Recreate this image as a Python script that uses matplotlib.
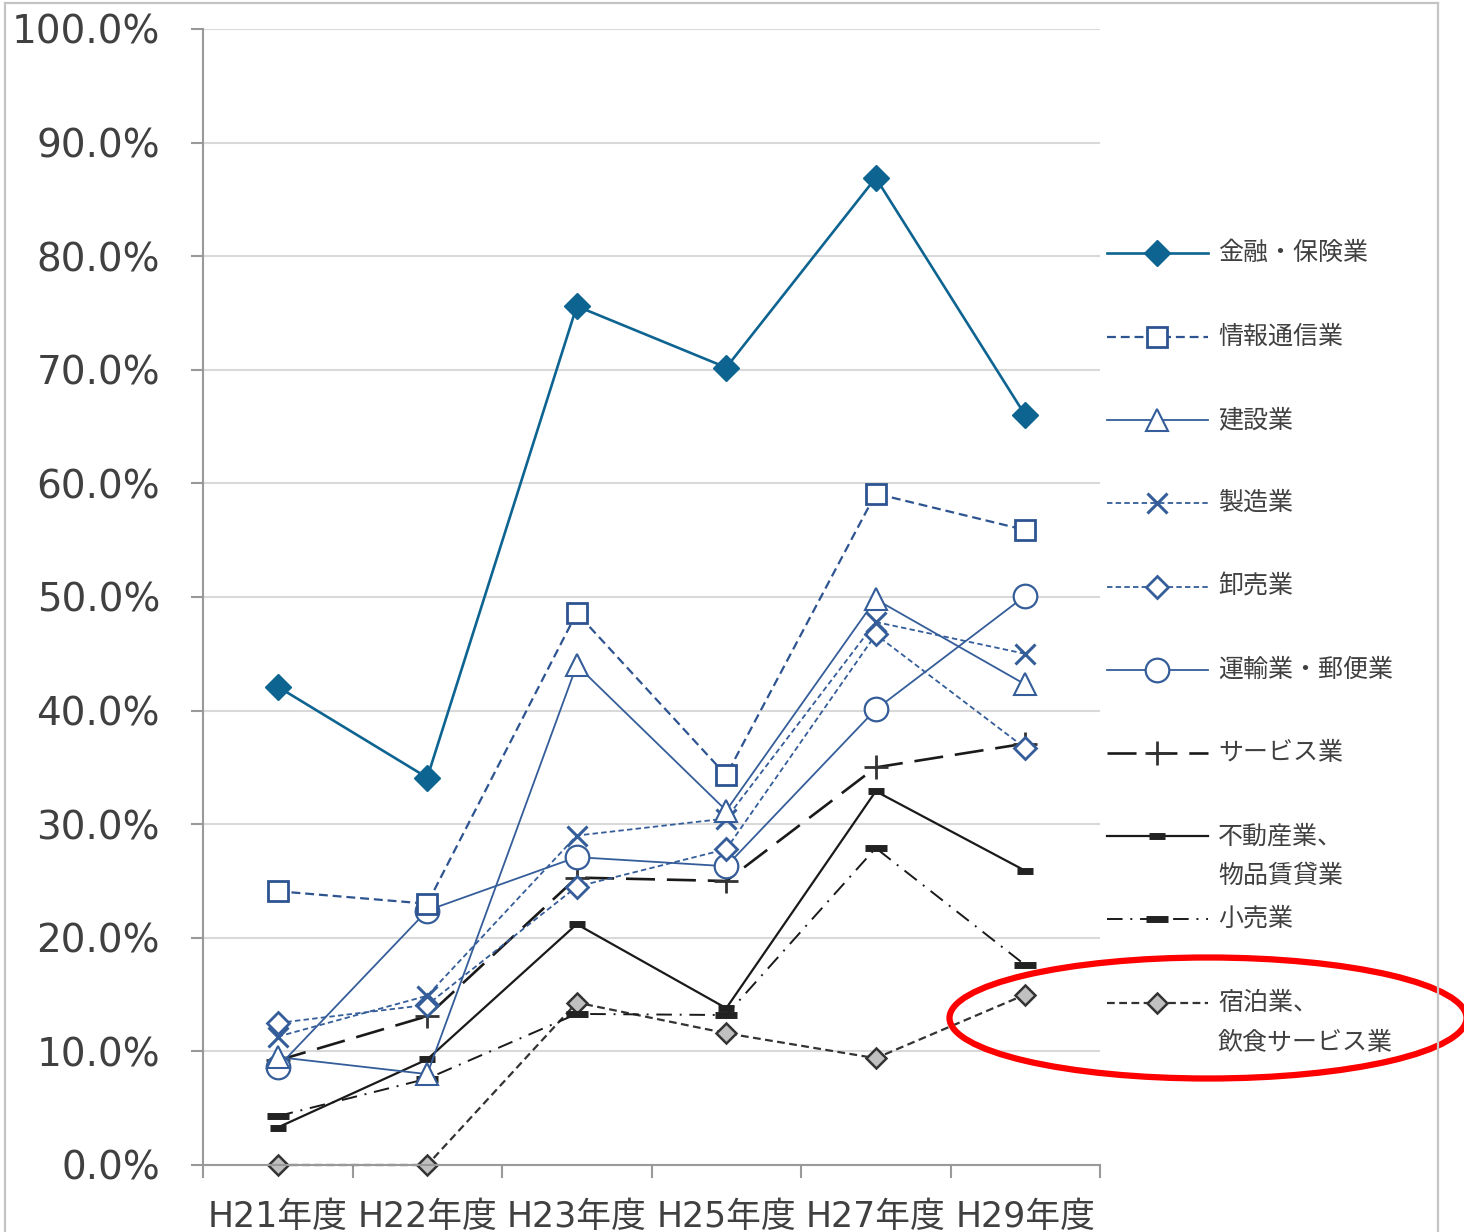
import matplotlib
matplotlib.use("Agg")
import matplotlib.pyplot as plt
from matplotlib.lines import Line2D
from matplotlib.patches import Ellipse

plt.rcParams['font.family'] = ['DejaVu Sans', 'Noto Sans CJK JP']

years = ["H21年度", "H22年度", "H23年度", "H25年度", "H27年度", "H29年度"]

finance = [42.1, 34.1, 75.6, 70.2, 86.9, 66.0]
info_comm = [24.1, 23.0, 48.6, 34.3, 59.1, 55.9]
construction = [9.5, 8.0, 44.0, 31.2, 49.8, 42.3]
manufacturing = [11.3, 14.9, 29.0, 30.5, 47.8, 45.0]
wholesale = [12.5, 14.1, 24.5, 27.8, 46.7, 36.7]
transport = [8.6, 22.4, 27.1, 26.3, 40.1, 50.1]
services = [9.2, 13.1, 25.3, 25.0, 35.0, 37.1]
real_estate = [3.3, 9.3, 21.2, 13.8, 32.9, 25.9]
retail = [4.3, 7.6, 13.3, 13.2, 27.9, 17.6]
lodging = [0.0, 0.0, 14.3, 11.6, 9.4, 15.0]

labels = ["金融・保険業", "情報通信業", "建設業", "製造業", "卸売業",
          "運輸業・郵便業", "サービス業", "不動産業、\n物品賃貸業", "小売業",
          "宿泊業、\n飲食サービス業"]

W, H = 1464, 1232
TXT = "#404040"
BLUE = "#345d99"


def fx(px):
    return px / W


def fy(py):
    return 1 - py / H


styles = [
    dict(color="#0e6491", ls="-", lw=1.9, marker="D", ms=13, mfc="#0e6491", mec="#0e6491"),
    dict(color="#2d5490", ls=(0, (4, 2.2)), lw=1.6, marker="s", ms=14, mfc="white", mec="#2d5490", mew=2),
    dict(color=BLUE, ls="-", lw=1.3, marker="^", ms=16, mfc="white", mec=BLUE, mew=1.5),
    dict(color=BLUE, ls=(0, (3, 1.8)), lw=1.3, marker="x", ms=15, mfc="none", mec=BLUE, mew=2.2),
    dict(color=BLUE, ls=(0, (3, 1.8)), lw=1.3, marker="D", ms=11.5, mfc="white", mec=BLUE, mew=2),
    dict(color=BLUE, ls="-", lw=1.3, marker="o", ms=17, mfc="white", mec=BLUE, mew=1.6),
    dict(color="#1a1a1a", ls=(0, (11, 4.5)), lw=1.9, marker="+", ms=17, mfc="none", mec="#333333", mew=2),
    dict(color="#1a1a1a", ls="-", lw=1.6, marker="_", ms=11, mfc="#222222", mec="#222222", mew=5),
    dict(color="#1a1a1a", ls=(0, (8, 4, 1, 4)), lw=1.4, marker="_", ms=16, mfc="#222222", mec="#222222", mew=5),
    dict(color="#333333", ls=(0, (3.5, 2)), lw=1.6, marker="D", ms=10.5, mfc="#c0c0c0", mec="#333333", mew=1.8),
]

series = [finance, info_comm, construction, manufacturing, wholesale,
          transport, services, real_estate, retail, lodging]

fig = plt.figure(figsize=(W / 100, H / 100), dpi=100)
ax = fig.add_axes([fx(203), fy(1165), fx(1100) - fx(203), fy(29) - fy(1165)])

x = list(range(len(years)))
# draw in reverse so finance sits on top
for vals, st in reversed(list(zip(series, styles))):
    ax.plot(x, vals, clip_on=False, **st)

ax.set_xlim(-0.5, len(years) - 0.5)
ax.set_ylim(0, 100)
ax.set_yticks(range(0, 101, 10))
ax.set_yticklabels([f"{v:.1f}%" for v in range(0, 101, 10)])
ax.set_xticks(x)
ax.set_xticklabels(years)
ax.set_xticks([i - 0.5 for i in range(len(years) + 1)], minor=True)
ax.tick_params(axis="x", which="major", length=0, pad=25, labelsize=25, labelcolor=TXT)
ax.tick_params(axis="x", which="minor", length=9, width=1.5, color="#999999", direction="out")
ax.tick_params(axis="y", length=9, width=1.5, color="#999999", pad=22, labelsize=28, labelcolor=TXT)

ax.grid(axis="y", color="#d9d9d9", lw=1.5)
ax.set_axisbelow(True)
for s in ["top", "right"]:
    ax.spines[s].set_visible(False)
for s in ["left", "bottom"]:
    ax.spines[s].set_color("#999999")
    ax.spines[s].set_linewidth(1.5)

# legend drawn by hand so two-line labels hang below their handle
leg_y = [253, 337, 420, 503, 587, 670, 753, 836, 919, 1003]
for lab, st, py in zip(labels, styles, leg_y):
    fig.add_artist(Line2D([fx(1107), fx(1157), fx(1208)], [fy(py)] * 3,
                          transform=fig.transFigure, markevery=[1], **st))
    for k, line in enumerate(lab.split("\n")):
        fig.text(fx(1218), fy(py + k * 40), line, fontsize=18, color=TXT,
                 va="center", ha="left", family=["Noto Sans CJK JP", "DejaVu Sans"])

# outer chart frame
frame = dict(transform=fig.transFigure, color="#c4c4c4", lw=1.6)
fig.add_artist(Line2D([fx(5), fx(5)], [fy(3), 0], **frame))
fig.add_artist(Line2D([fx(5), fx(1438)], [fy(3), fy(3)], **frame))
fig.add_artist(Line2D([fx(1438), fx(1438)], [fy(3), 0], **frame))

# red highlight ellipse
fig.add_artist(Ellipse((fx(1208), fy(1018)), width=517 / W, height=121 / H,
                       transform=fig.transFigure, fill=False, ec="#ff0000", lw=4.5))

fig.savefig("out.png", dpi=100)
